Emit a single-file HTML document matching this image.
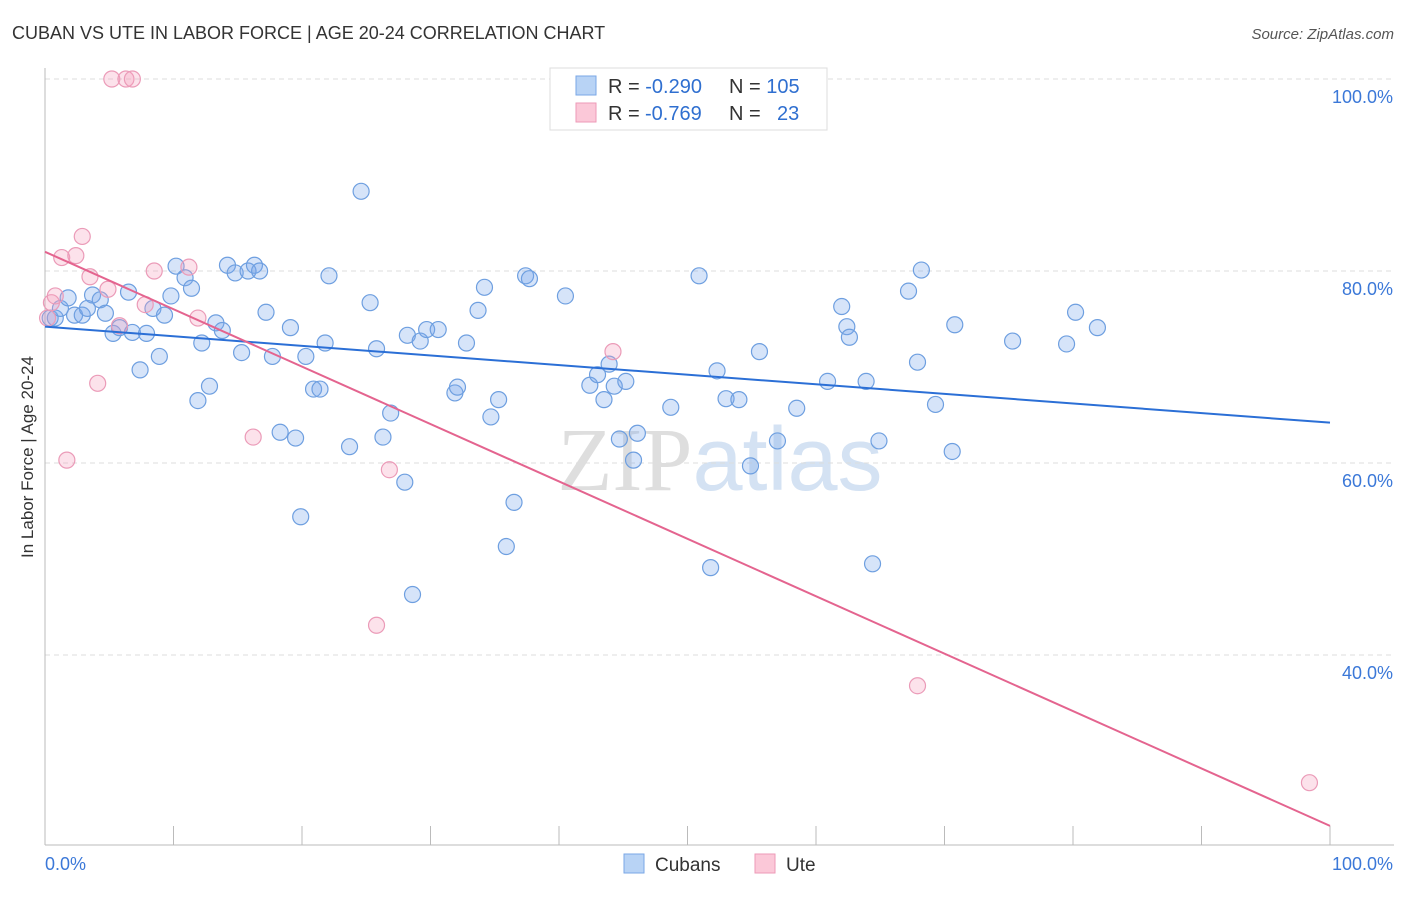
<!DOCTYPE html>
<html><head><meta charset="utf-8"><style>
body{margin:0;background:#fff;font-family:"Liberation Sans",sans-serif;}
svg text{font-family:"Liberation Sans",sans-serif;}
</style></head><body>
<svg id="chart" width="1406" height="892" xmlns="http://www.w3.org/2000/svg">
<text x="12" y="39" font-size="18" fill="#333">CUBAN VS UTE IN LABOR FORCE | AGE 20-24 CORRELATION CHART</text>
<text x="1394" y="39" font-size="15" fill="#555" text-anchor="end" font-style="italic">Source: ZipAtlas.com</text>
<text x="720" y="490" font-size="90" text-anchor="middle" fill="#e2e6ec"><tspan font-family="Liberation Serif" fill="#dedede">ZIP</tspan><tspan fill="#d4e2f3">atlas</tspan></text>
<g id="grid"></g><g id="axes"></g><g id="marks"></g>
<text transform="translate(33,457) rotate(-90)" font-size="17" fill="#333" text-anchor="middle">In Labor Force | Age 20-24</text>
<g>
<rect x="550" y="68" width="277" height="62" fill="#fff" stroke="#ddd"/>
<rect x="576" y="76" width="20" height="19" fill="#b8d3f5" stroke="#7aa7e6"/>
<rect x="576" y="103" width="20" height="19" fill="#fbc8d8" stroke="#ee9ab7"/>
<text x="608" y="93" font-size="20" fill="#333">R = <tspan fill="#2f6fd0">-0.290</tspan><tspan x="729">N = </tspan><tspan fill="#2f6fd0">105</tspan></text>
<text x="608" y="120" font-size="20" fill="#333">R = <tspan fill="#2f6fd0" x="645">-0.769</tspan><tspan x="729">N = </tspan><tspan fill="#2f6fd0" x="777">23</tspan></text>
</g>
<g>
<rect x="624" y="854" width="20" height="19" fill="#b8d3f5" stroke="#7aa7e6"/>
<text x="655" y="871" font-size="19" fill="#333">Cubans</text>
<rect x="755" y="854" width="20" height="19" fill="#fbc8d8" stroke="#ee9ab7"/>
<text x="786" y="871" font-size="19" fill="#333">Ute</text>
</g>
</svg>
<script>
const xTicks=[0,10,20,30,40,50,60,70,80,90,100];
const yTicks=[40,60,80,100];
const yTickLabels=["40.0%","60.0%","80.0%","100.0%"];
const cubanX=[0.4,0.8,1.2,1.8,2.3,2.9,3.3,3.7,4.3,4.7,5.3,5.8,6.5,6.8,7.4,7.9,8.4,8.9,9.3,9.8,10.2,10.9,11.4,11.9,12.2,12.8,13.3,13.8,14.2,14.8,15.3,15.8,16.3,16.7,17.2,17.7,18.3,19.1,19.5,19.9,20.3,20.9,21.4,21.8,22.1,23.7,24.6,25.3,25.8,26.3,26.9,28.0,28.2,28.6,29.2,29.7,30.6,31.9,32.1,32.8,34.2,33.7,34.7,35.3,35.9,36.5,37.4,37.7,40.5,42.4,43.0,43.5,43.9,44.3,44.7,45.2,45.8,46.1,48.7,50.9,51.8,52.3,53.0,54.0,54.9,55.6,57.0,58.5,60.9,62.0,62.4,62.6,63.9,64.4,64.9,67.2,67.9,68.2,69.3,70.6,70.8,75.3,79.5,80.2,81.9];
const cubanY=[75.1,75.1,76.1,77.2,75.4,75.4,76.1,77.5,77.0,75.6,73.5,74.1,77.8,73.6,69.7,73.5,76.1,71.1,75.4,77.4,80.5,79.3,78.2,66.5,72.5,68.0,74.6,73.8,80.6,79.8,71.5,80.0,80.6,80.0,75.7,71.1,63.2,74.1,62.6,54.4,71.1,67.7,67.7,72.5,79.5,61.7,88.3,76.7,71.9,62.7,65.2,58.0,73.3,46.3,72.7,73.9,73.9,67.3,67.9,72.5,78.3,75.9,64.8,66.6,51.3,55.9,79.5,79.2,77.4,68.1,69.2,66.6,70.3,68.0,62.5,68.5,60.3,63.1,65.8,79.5,49.1,69.6,66.7,66.6,59.7,71.6,62.3,65.7,68.5,76.3,74.2,73.1,68.5,49.5,62.3,77.9,70.5,80.1,66.1,61.2,74.4,72.7,72.4,75.7,74.1];
const uteX=[5.2,6.3,6.8,0.5,0.8,0.2,1.3,2.4,2.9,3.5,4.1,1.7,4.9,5.8,7.8,8.5,11.2,11.9,16.2,25.8,26.8,44.2,67.9,98.4];
const uteY=[100,100,100,76.7,77.4,75.1,81.4,81.6,83.6,79.4,68.3,60.3,78.1,74.3,76.5,80.0,80.4,75.1,62.7,43.1,59.3,71.6,36.8,26.7];
const cubanTrend=[74.2,64.2];
const uteTrend=[82.0,22.2];
const NS="http://www.w3.org/2000/svg";
const xs=v=>45+v*12.85;
const ys=v=>79+(100-v)*9.6;
function mk(tag,attrs,parent){const e=document.createElementNS(NS,tag);for(const k in attrs)e.setAttribute(k,attrs[k]);parent.appendChild(e);return e;}
const grid=document.getElementById('grid'),axes=document.getElementById('axes'),marks=document.getElementById('marks');
yTicks.forEach((t,i)=>{
 const l=mk('line',{x1:45,x2:1394,y1:ys(t),y2:ys(t),stroke:'#ddd','stroke-dasharray':'5,4'},grid);
 
 
 const tx=mk('text',{x:1393,y:ys(t)+24,'font-size':18,fill:'#3b78d8','text-anchor':'end'},axes);
 tx.textContent=yTickLabels[i];
 
 
});
const ax=mk('line',{x1:45,x2:1394,y1:845,y2:845,stroke:'#bbb'},axes);


const ay=mk('line',{x1:45,x2:45,y1:68,y2:845,stroke:'#bbb'},axes);


xTicks.forEach(t=>{
 const l=mk('line',{x1:xs(t),x2:xs(t),y1:826,y2:845,stroke:'#bbb'},axes);
 
 
});
const xl0=mk('text',{x:45,y:870,'font-size':18,fill:'#3b78d8'},axes);xl0.textContent='0.0%';


const xl1=mk('text',{x:1393,y:870,'font-size':18,fill:'#3b78d8','text-anchor':'end'},axes);xl1.textContent='100.0%';


cubanX.forEach((x,i)=>{
 const c=mk('circle',{cx:xs(x),cy:ys(cubanY[i]),r:8,fill:'rgba(120,165,235,0.3)',stroke:'#6e9fe0','stroke-width':1.2},marks);
 
 
});
uteX.forEach((x,i)=>{
 const c=mk('circle',{cx:xs(x),cy:ys(uteY[i]),r:8,fill:'rgba(245,160,190,0.3)',stroke:'#eb9bb8','stroke-width':1.2},marks);
 
 
});
const bl=mk('line',{x1:xs(0),y1:ys(cubanTrend[0]),x2:xs(100),y2:ys(cubanTrend[1]),stroke:'#2b6fd6','stroke-width':2},marks);


const pl=mk('line',{x1:xs(0),y1:ys(uteTrend[0]),x2:xs(100),y2:ys(uteTrend[1]),stroke:'#e4648f','stroke-width':2},marks);


</script>
</body></html>
